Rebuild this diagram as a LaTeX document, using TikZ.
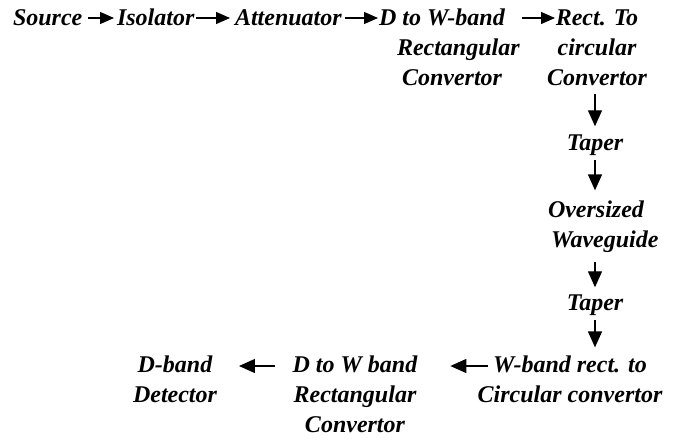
\documentclass[tikz,border=0pt]{standalone}
\usepackage{fontspec}
\setmainfont{Liberation Serif}
\usetikzlibrary{arrows.meta}
\begin{document}
\begin{tikzpicture}[x=1pt,y=-1pt,
  lbl/.style={inner sep=0pt,outer sep=0pt,font=\bfseries\itshape\fontsize{24}{30}\selectfont},
  arr/.style={line width=1.3pt,-{Triangle[length=16pt,width=14pt]}},
  arrs/.style={line width=1.3pt,-{Triangle[length=14pt,width=12pt]}}]
\useasboundingbox (0,0) rectangle (678,440);
% top row (multi-line nodes are placed by the baseline of their last line)
\node[lbl,anchor=base west] (src) at (13,25) {Source};
\node[lbl,anchor=base west] (iso) at (117,25) {Isolator};
\node[lbl,anchor=base west] (att) at (235,25) {Attenuator};
\node[lbl,anchor=base west,align=left] (dtw1) at (379,85) {D to W-band\\\hspace*{18pt}Rectangular\\\hspace*{23pt}Convertor};
\node[lbl,anchor=base,align=center] (rtc) at (597,85) {Rect. To\\circular\\Convertor};
% vertical chain
\node[lbl,anchor=base] (tap1) at (595,150) {Taper};
\node[lbl,anchor=base west,align=left] (ovs) at (548,247) {Oversized\\\hspace*{3pt}Waveguide};
\node[lbl,anchor=base] (tap2) at (595,310) {Taper};
% bottom row
\node[lbl,anchor=base,align=center] (wbr) at (570,402) {W-band rect. to\\Circular convertor};
\node[lbl,anchor=base,align=center] (dtwb) at (355,432) {D to W band\\Rectangular\\Convertor};
\node[lbl,anchor=base,align=center] (det) at (175,402) {D-band\\Detector};
% connectors
\draw[arrs] ([xshift=6pt,yshift=7pt]src.base east) -- ([xshift=-3pt,yshift=7pt]iso.base west);
\draw[arrs] ([xshift=2pt,yshift=7pt]iso.base east) -- ([xshift=-5pt,yshift=7pt]att.base west);
\draw[arrs] ([xshift=3pt,yshift=7pt]att.base east) -- ([xshift=-1pt,yshift=67pt]dtw1.base west);
\draw[arrs] ([xshift=2pt,yshift=67pt]dtw1.base east) -- ([xshift=8pt,yshift=67pt]rtc.base west);
\draw[arr,shorten <=9pt,shorten >=8pt] (rtc.south -| tap1.north) -- (tap1.north);
\draw[arr,shorten <=5pt,shorten >=10pt] (tap1.south) -- (tap1.south |- ovs.north);
\draw[arr,shorten <=10pt,shorten >=7pt] (ovs.south -| tap2.north) -- (tap2.north);
\draw[arr,shorten <=5pt,shorten >=8pt] (tap2.south) -- (tap2.south |- wbr.north);
\draw[arr] ([xshift=10pt,yshift=36pt]wbr.base west) -- ([xshift=33pt,yshift=66pt]dtwb.base east);
\draw[arr] ([xshift=-18pt,yshift=66pt]dtwb.base west) -- ([xshift=22pt,yshift=36pt]det.base east);
\end{tikzpicture}
\end{document}
